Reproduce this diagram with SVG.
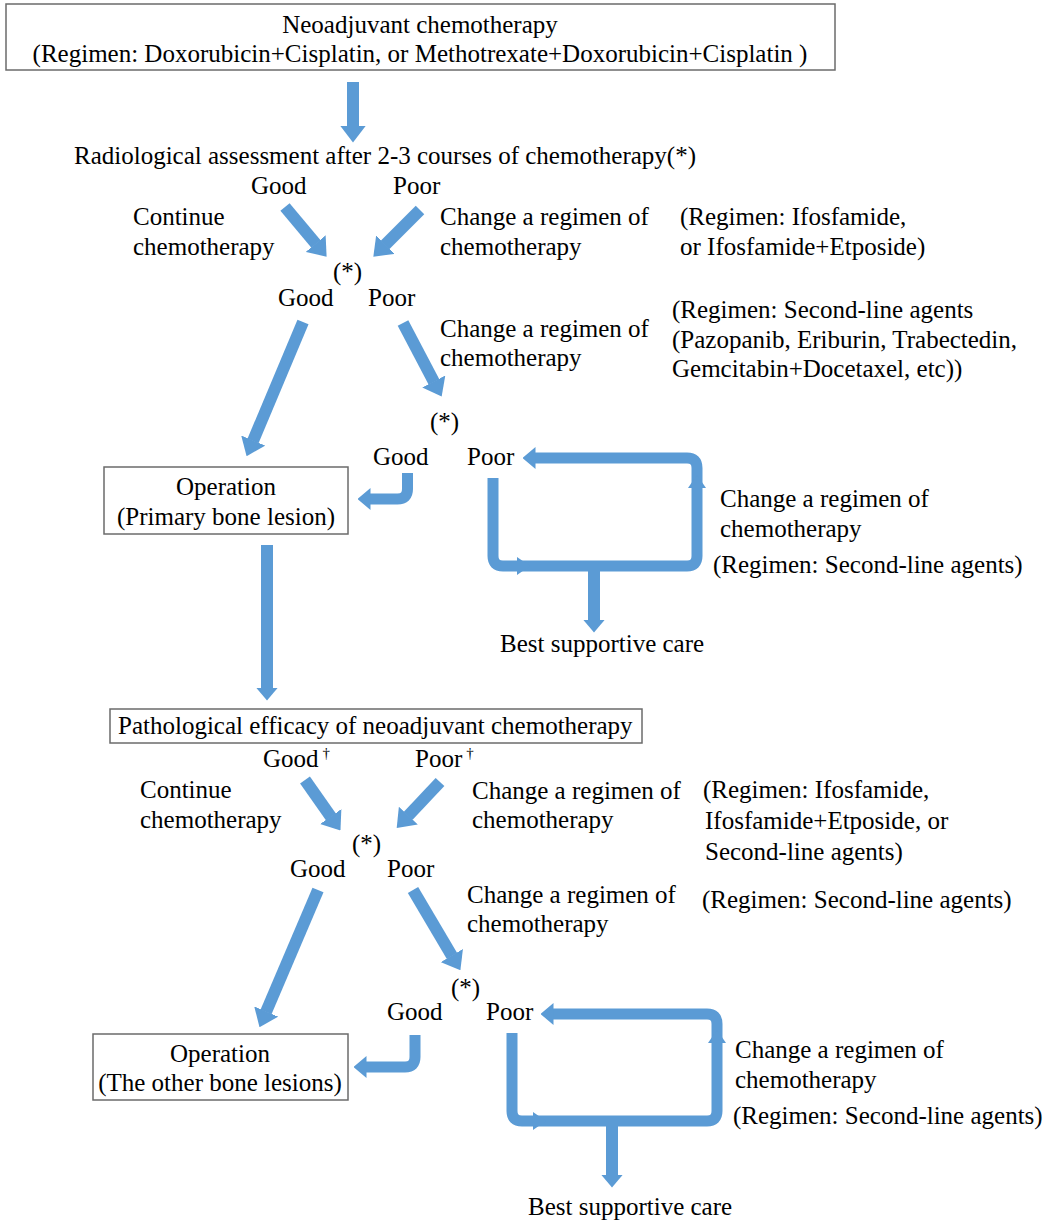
<svg xmlns="http://www.w3.org/2000/svg" width="1049" height="1224" viewBox="0 0 1049 1224">
<style>
.t{font-family:"Liberation Serif","Times New Roman",serif;font-size:25px;fill:#000}
.m{text-anchor:middle}
.sup{font-size:15px}
.box{fill:#fff;stroke:#6b6b6b;stroke-width:1.5}
.c{stroke:#5b9bd5;stroke-width:12;fill:none}
.l{stroke:#5b9bd5;stroke-width:11;fill:none}
.h{fill:#5b9bd5}
</style>
<defs>
<marker id="ah" markerUnits="userSpaceOnUse" markerWidth="17" markerHeight="26" viewBox="0 0 17 26" refX="0.5" refY="13" orient="auto"><path d="M0,0 L17,13 L0,26 z" fill="#5b9bd5"/></marker>
<marker id="as" markerUnits="userSpaceOnUse" markerWidth="13" markerHeight="22" viewBox="0 0 13 22" refX="0.5" refY="11" orient="auto"><path d="M0,0 L13,11 L0,22 z" fill="#5b9bd5"/></marker>
</defs>
<rect width="1049" height="1224" fill="#fff"/>

<g id="connectors">
<line class="c" x1="353" y1="82" x2="353" y2="126" marker-end="url(#ah)"/>
<line class="c" x1="285" y1="207" x2="316" y2="244" marker-end="url(#ah)"/>
<line class="c" x1="420" y1="210" x2="385" y2="245" marker-end="url(#ah)"/>
<line class="c" x1="303" y1="322" x2="253" y2="441" marker-end="url(#ah)"/>
<line class="c" x1="403" y1="323" x2="434" y2="382" marker-end="url(#ah)"/>
<path class="l" d="M407.5,473 V489 Q407.5,499 397.5,499 H370" marker-end="url(#as)"/>
<path class="l" d="M493,478 V556 Q493,566 503,566 H687 Q697,566 697,556 V468 Q697,458 687,458 H535" marker-end="url(#as)"/>
<polygon class="h" points="517,557 530,566 517,575"/>
<polygon class="h" points="688,488 697,475 706,488"/>
<line class="c" x1="594" y1="566" x2="594" y2="620" marker-end="url(#as)"/>
<line class="c" x1="267" y1="545" x2="267" y2="688" marker-end="url(#as)"/>
<line class="c" x1="305" y1="780" x2="331" y2="817" marker-end="url(#ah)"/>
<line class="c" x1="440" y1="782" x2="408" y2="816" marker-end="url(#ah)"/>
<line class="c" x1="318" y1="890" x2="266" y2="1012" marker-end="url(#ah)"/>
<line class="c" x1="413" y1="890" x2="452" y2="956" marker-end="url(#ah)"/>
<path class="l" d="M415,1035 V1057 Q415,1067 405,1067 H366" marker-end="url(#as)"/>
<path class="l" d="M512,1033 V1111 Q512,1121 522,1121 H707 Q717,1121 717,1111 V1024 Q717,1014 707,1014 H553" marker-end="url(#as)"/>
<polygon class="h" points="533,1112 546,1121 533,1130"/>
<polygon class="h" points="708,1043 717,1030 726,1043"/>
<line class="c" x1="612" y1="1121" x2="612" y2="1175" marker-end="url(#as)"/>
</g>

<g id="neoadjuvant">
<rect class="box" x="6" y="4" width="829" height="66"/>
<text class="t m" x="420" y="33">Neoadjuvant chemotherapy</text>
<text class="t m" x="420" y="62">(Regimen: Doxorubicin+Cisplatin, or Methotrexate+Doxorubicin+Cisplatin )</text>
</g>

<g id="radiological">
<text class="t" x="74" y="164">Radiological assessment after 2-3 courses of chemotherapy(*)</text>
<text class="t" x="251" y="194">Good</text>
<text class="t" x="393" y="194">Poor</text>
<text class="t" x="133" y="225">Continue</text>
<text class="t" x="133" y="255">chemotherapy</text>
<text class="t" x="440" y="225">Change a regimen of</text>
<text class="t" x="440" y="255">chemotherapy</text>
<text class="t" x="680" y="225">(Regimen: Ifosfamide,</text>
<text class="t" x="680" y="255">or Ifosfamide+Etposide)</text>
</g>

<g id="assess1">
<text class="t" x="333" y="280">(*)</text>
<text class="t" x="278" y="306">Good</text>
<text class="t" x="368" y="306">Poor</text>
<text class="t" x="440" y="337">Change a regimen of</text>
<text class="t" x="440" y="366">chemotherapy</text>
<text class="t" x="672" y="318">(Regimen: Second-line agents</text>
<text class="t" x="672" y="348">(Pazopanib, Eriburin, Trabectedin,</text>
<text class="t" x="672" y="377">Gemcitabin+Docetaxel, etc))</text>
</g>

<g id="assess2">
<text class="t" x="430" y="430">(*)</text>
<text class="t" x="373" y="465">Good</text>
<text class="t" x="467" y="465">Poor</text>
<text class="t" x="720" y="507">Change a regimen of</text>
<text class="t" x="720" y="537">chemotherapy</text>
<text class="t" x="713" y="573">(Regimen: Second-line agents)</text>
</g>

<g id="operation1">
<rect class="box" x="104" y="467" width="244" height="67"/>
<text class="t m" x="226" y="495">Operation</text>
<text class="t m" x="226" y="525">(Primary bone lesion)</text>
</g>

<g id="bsc1">
<text class="t" x="500" y="652">Best supportive care</text>
</g>

<g id="pathological">
<rect class="box" x="110" y="709" width="532" height="34"/>
<text class="t" x="118" y="734">Pathological efficacy of neoadjuvant chemotherapy</text>
<text class="t" x="263" y="767">Good<tspan class="sup" dx="4" dy="-9">†</tspan></text>
<text class="t" x="415" y="767">Poor<tspan class="sup" dx="4" dy="-9">†</tspan></text>
<text class="t" x="140" y="798">Continue</text>
<text class="t" x="140" y="828">chemotherapy</text>
<text class="t" x="472" y="799">Change a regimen of</text>
<text class="t" x="472" y="828">chemotherapy</text>
<text class="t" x="703" y="798">(Regimen: Ifosfamide,</text>
<text class="t" x="705" y="829">Ifosfamide+Etposide, or</text>
<text class="t" x="705" y="860">Second-line agents)</text>
</g>

<g id="assess3">
<text class="t" x="352" y="852">(*)</text>
<text class="t" x="290" y="877">Good</text>
<text class="t" x="387" y="877">Poor</text>
<text class="t" x="467" y="903">Change a regimen of</text>
<text class="t" x="467" y="932">chemotherapy</text>
<text class="t" x="702" y="908">(Regimen: Second-line agents)</text>
</g>

<g id="assess4">
<text class="t" x="451" y="996">(*)</text>
<text class="t" x="387" y="1020">Good</text>
<text class="t" x="486" y="1020">Poor</text>
<text class="t" x="735" y="1058">Change a regimen of</text>
<text class="t" x="735" y="1088">chemotherapy</text>
<text class="t" x="733" y="1124">(Regimen: Second-line agents)</text>
</g>

<g id="operation2">
<rect class="box" x="93" y="1034" width="255" height="66"/>
<text class="t m" x="220" y="1062">Operation</text>
<text class="t m" x="220" y="1091">(The other bone lesions)</text>
</g>

<g id="bsc2">
<text class="t" x="528" y="1215">Best supportive care</text>
</g>
</svg>
